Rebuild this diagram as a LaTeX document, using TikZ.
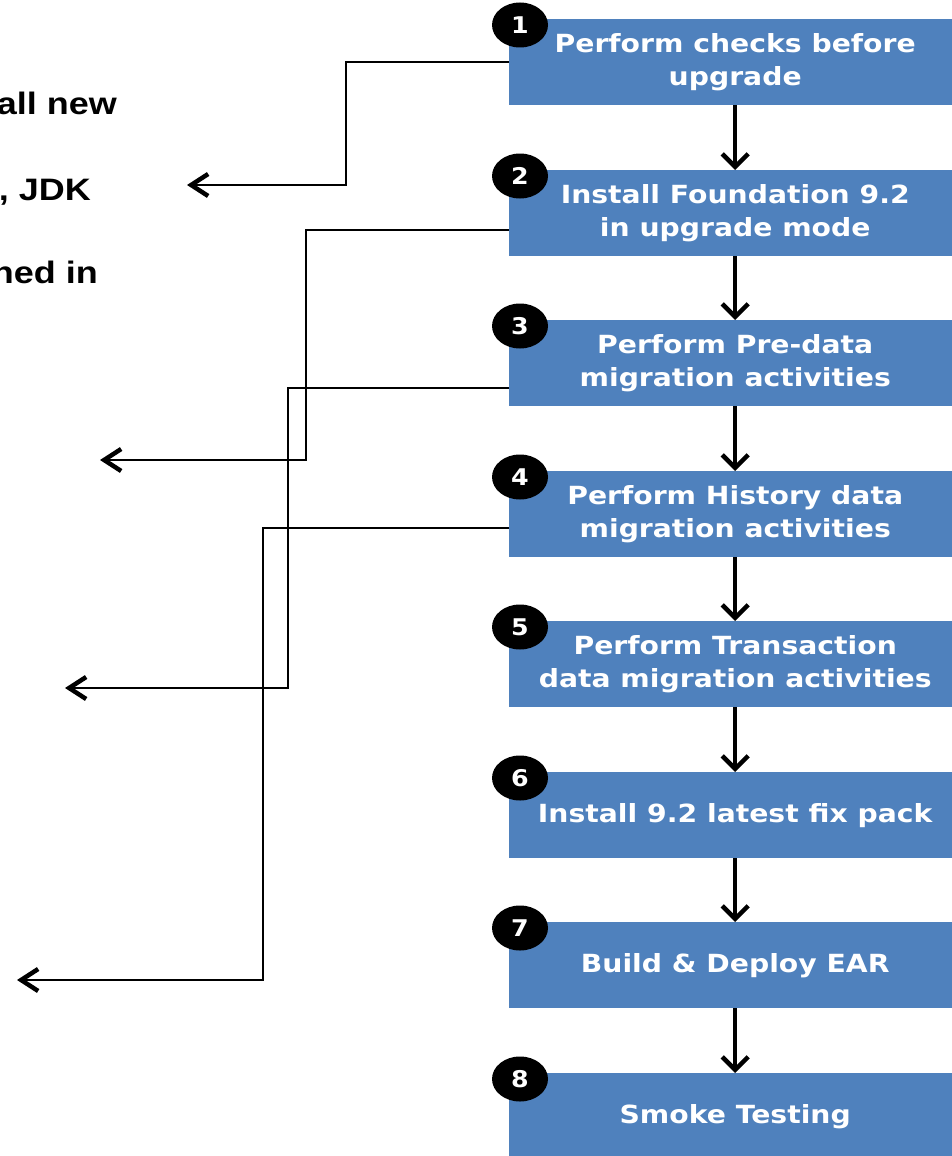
\documentclass[tikz,border=0pt]{standalone}
\usepackage{fontspec}
\usetikzlibrary{shapes.geometric,arrows.meta}
\newfontfamily\boxfont{DejaVu Sans}[FakeStretch=1.13]
\newfontfamily\badgefont{DejaVu Sans}[FakeStretch=1.1]
\newfontfamily\notefont{Liberation Sans}[FakeStretch=1.16]
\definecolor{boxblue}{RGB}{79,129,189}
\begin{document}
\begin{tikzpicture}[x=1pt,y=-1pt,
  stepbox/.style={fill=boxblue, minimum width=452pt, minimum height=86pt,
    inner sep=0pt, anchor=north west, text=white, align=center,
    font=\boxfont\bfseries\fontsize{25}{32.5}\selectfont},
  badge/.style={ellipse, fill=black, minimum width=56pt, minimum height=45pt,
    inner sep=0pt, text=white, font=\badgefont\bfseries\fontsize{23}{23}\selectfont},
  flow/.style={line width=3.5pt, -{Straight Barb[length=13pt,width=26pt,line width=4.5pt]}},
  link/.style={line width=1.7pt, -{Straight Barb[length=17pt,width=22pt,line width=4.5pt]}},
  note/.style={anchor=base east, inner sep=0pt,
    font=\notefont\bfseries\fontsize{31}{36}\selectfont}]
\clip (0,0) rectangle (952,1156);

% process steps
\node[stepbox] (b1) at (509,19)   {Perform checks before\\upgrade};
\node[stepbox] (b2) at (509,170)  {Install Foundation 9.2\\in upgrade mode};
\node[stepbox] (b3) at (509,320)  {Perform Pre-data\\migration activities};
\node[stepbox] (b4) at (509,471)  {Perform History data\\migration activities};
\node[stepbox] (b5) at (509,621)  {Perform Transaction\\data migration activities};
\node[stepbox] (b6) at (509,772)  {Install 9.2 latest fix pack};
\node[stepbox] (b7) at (509,922)  {Build \& Deploy EAR};
\node[stepbox] (b8) at (509,1073) {Smoke Testing};

% step numbers
\foreach \i/\y in {1/19,2/170,3/320,4/471,5/621,6/772,7/922,8/1073}
  \node[badge] (n\i) at (520,\y+6) {\i};

% flow between steps
\foreach \a/\b in {1/2,2/3,3/4,4/5,5/6,6/7,7/8}
  \draw[flow] (b\a.south) -- (b\b.north);

% notes on the left
\node[note] (l1) at (117,114) {all new};
\node[note] (l2) at (91,200)  {, JDK};
\node[note] (l3) at (98,283)  {hed in};

% arrow ends of the side connectors
\coordinate (t1) at (187,185);
\coordinate (t2) at (100,460);
\coordinate (t3) at (65,688);
\coordinate (t4) at (17,980);

\draw[link] (b1.west) -| (346,185) -- (t1);
\draw[link] ([yshift=-17pt]b2.west) -| (306,460) -- (t2);
\draw[link] ([yshift=-25pt]b3.west) -| (288,688) -- (t3);
\draw[link] ([yshift=-14pt]b4.west) -| (263,980) -- (t4);
\end{tikzpicture}
\end{document}
